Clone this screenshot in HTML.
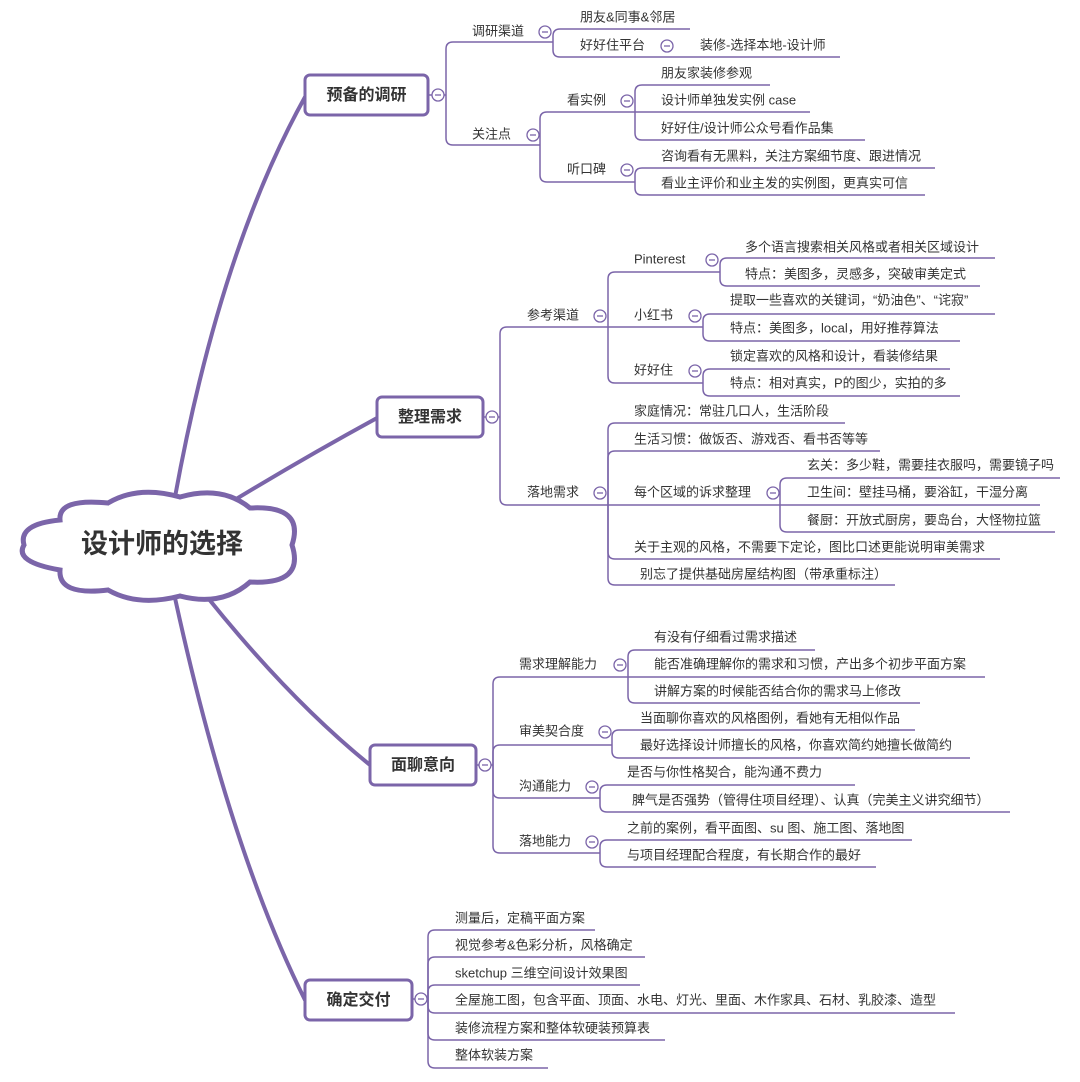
<!DOCTYPE html>
<html><head><meta charset="utf-8"><style>
html,body{margin:0;padding:0;background:#fff;}
svg{display:block;}
text{font-family:"Liberation Sans","Noto Sans CJK SC",sans-serif;fill:#333;}
</style></head><body>
<svg id="s" width="1080" height="1082" xmlns="http://www.w3.org/2000/svg">
<g fill="none" stroke="#7b65a9" stroke-width="4" stroke-linecap="round">
<path d="M305,97 Q220,250 175,497"/>
<path d="M377,418 Q300,460 218,510"/>
<path d="M370,765 Q290,700 208,598"/>
<path d="M305,1000 Q230,850 175,598"/>
</g>
<path d="M60,520 Q58,498 108,503 Q138,485 180,497 Q222,485 250,508 Q305,505 292,545 Q305,585 250,582 Q222,607 180,596 Q138,607 108,590 Q58,596 60,570 Q14,562 24,545 Q18,524 60,520 Z" fill="#fff" stroke="#7b65a9" stroke-width="5"/>
<text x="162" y="546" font-size="27" font-weight="bold" text-anchor="middle" dominant-baseline="middle" fill="#2a2a40">设计师的选择</text>
<g id="g"></g>
</svg>
<script>
var g=document.getElementById('g'),NS='http://www.w3.org/2000/svg',C='#7b65a9';
function el(t,a,txt){var e=document.createElementNS(NS,t);for(var k in a)e.setAttribute(k,a[k]);if(txt)e.textContent=txt;g.appendChild(e);return e;}
function circ(x,y){el('circle',{cx:x,cy:y,r:6,fill:'#fff',stroke:C,'stroke-width':1.3});el('line',{x1:x-3,y1:y,x2:x+3,y2:y,stroke:C,'stroke-width':1.3});}
function box(x1,y1,x2,y2,t){el('rect',{x:x1,y:y1,width:x2-x1,height:y2-y1,rx:5,fill:'#fff',stroke:C,'stroke-width':3});el('text',{x:(x1+x2)/2,y:(y1+y2)/2+1,'font-size':16,'font-weight':'bold','text-anchor':'middle','dominant-baseline':'middle'},t);}
function leaf(t,x,ty,uy,x0,x1){el('text',{x:x,y:ty,'font-size':13,'dominant-baseline':'middle'},t);}
// bracket: bx, parent y (origin), children [text,tx,ty,uy,endx, circle?]
function br(bx,py,kids){kids.forEach(function(k){var uy=k[3],d,r=7;
if(Math.abs(uy-py)<2)d='M'+bx+','+py+' L'+k[4]+','+uy;
else{var s=uy>py?1:-1;d='M'+bx+','+py+' L'+bx+','+(uy-s*r)+' Q'+bx+','+uy+' '+(bx+r)+','+uy+' L'+k[4]+','+uy;}
el('path',{d:d,fill:'none',stroke:C,'stroke-width':1.5});
leaf(k[0],k[1],k[2]);
if(k[5])circ(k[5],k[2]);});}
// branch 1
box(305,75,428,115,'预备的调研');
el('line',{x1:428,y1:95,x2:446,y2:95,stroke:C,'stroke-width':1.5});
br(446,95,[['调研渠道',472,32,42,553,545],['关注点',472,135,145,540,533]]);
br(553,42,[['朋友&同事&邻居',580,18,29,690],['好好住平台',580,46,57,840,667]]);
leaf('装修-选择本地-设计师',700,46);
br(540,145,[['看实例',567,101,112,635,627],['听口碑',567,170,182,635,627]]);
br(635,112,[['朋友家装修参观',661,74,85,770],['设计师单独发实例 case',661,101,112,810],['好好住/设计师公众号看作品集',661,129,140,865]]);
br(635,182,[['咨询看有无黑料，关注方案细节度、跟进情况',661,157,168,935],['看业主评价和业主发的实例图，更真实可信',661,184,195,925]]);
circ(438,95);
// branch 2
box(377,397,483,437,'整理需求');
el('line',{x1:483,y1:417,x2:500,y2:417,stroke:C,'stroke-width':1.5});
br(500,417,[['参考渠道',527,316,327,608,600],['落地需求',527,493,505,608,600]]);
br(608,327,[['Pinterest',634,260,272,720,712],['小红书',634,316,327,703,695],['好好住',634,371,383,703,695]]);
br(720,272,[['多个语言搜索相关风格或者相关区域设计',745,248,258,995],['特点：美图多，灵感多，突破审美定式',745,275,286,980]]);
br(703,327,[['提取一些喜欢的关键词，“奶油色”、“诧寂”',730,301,314,995],['特点：美图多，local，用好推荐算法',730,329,341,960]]);
br(703,383,[['锁定喜欢的风格和设计，看装修结果',730,357,369,950],['特点：相对真实，P的图少，实拍的多',730,384,396,960]]);
br(608,505,[['家庭情况：常驻几口人，生活阶段',634,412,423,845],['生活习惯：做饭否、游戏否、看书否等等',634,440,451,880],['每个区域的诉求整理',634,493,505,780,773],['关于主观的风格，不需要下定论，图比口述更能说明审美需求',634,548,559,1000],['别忘了提供基础房屋结构图（带承重标注）',640,575,585,895]]);
br(780,505,[['玄关：多少鞋，需要挂衣服吗，需要镜子吗',807,466,478,1060],['卫生间：壁挂马桶，要浴缸，干湿分离',807,493,505,1040],['餐厨：开放式厨房，要岛台，大怪物拉篮',807,521,532,1055]]);
circ(492,417);
// branch 3
box(370,745,476,785,'面聊意向');
el('line',{x1:476,y1:765,x2:493,y2:765,stroke:C,'stroke-width':1.5});
br(493,765,[['需求理解能力',519,665,677,628,620],['审美契合度',519,732,745,612,605],['沟通能力',519,787,798,600,592],['落地能力',519,842,853,600,592]]);
br(628,677,[['有没有仔细看过需求描述',654,638,650,815],['能否准确理解你的需求和习惯，产出多个初步平面方案',654,665,677,985],['讲解方案的时候能否结合你的需求马上修改',654,692,703,920]]);
br(612,745,[['当面聊你喜欢的风格图例，看她有无相似作品',640,719,730,915],['最好选择设计师擅长的风格，你喜欢简约她擅长做简约',640,746,758,970]]);
br(600,798,[['是否与你性格契合，能沟通不费力',627,773,785,855],['脾气是否强势（管得住项目经理）、认真（完美主义讲究细节）',632,801,812,1010]]);
br(600,853,[['之前的案例，看平面图、su 图、施工图、落地图',627,829,840,912],['与项目经理配合程度，有长期合作的最好',627,856,867,876]]);
circ(485,765);
// branch 4
box(305,980,412,1020,'确定交付');
el('line',{x1:412,y1:999,x2:428,y2:999,stroke:C,'stroke-width':1.5});
br(428,999,[['测量后，定稿平面方案',455,919,930,595],['视觉参考&色彩分析，风格确定',455,946,957,645],['sketchup 三维空间设计效果图',455,974,985,640],['全屋施工图，包含平面、顶面、水电、灯光、里面、木作家具、石材、乳胶漆、造型',455,1001,1013,955],['装修流程方案和整体软硬装预算表',455,1029,1040,665],['整体软装方案',455,1056,1068,548]]);
circ(421,999);
</script>
</body></html>
